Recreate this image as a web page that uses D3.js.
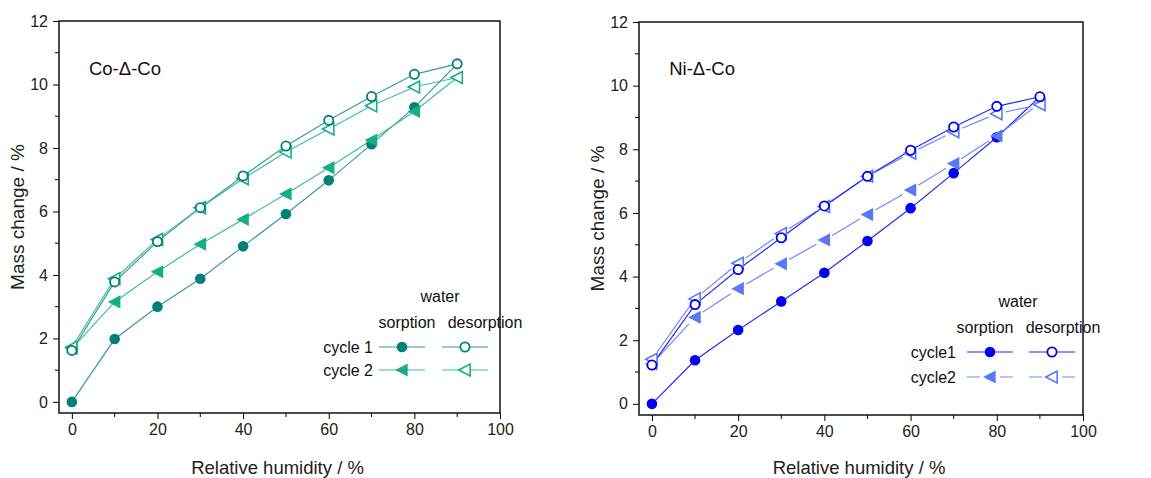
<!DOCTYPE html>
<html>
<head>
<meta charset="utf-8">
<script src="https://cdn.jsdelivr.net/npm/d3@7"></script>
<style>
  body { margin: 0; background: #fff; }
  svg { font-family: "Liberation Sans", Arial, sans-serif; }
</style>
</head>
<body>
<svg id="chart" width="1151" height="478"></svg>
<script>
"use strict";

// relative humidity steps, up and down
const rhUp = [0, 10, 20, 30, 40, 50, 60, 70, 80, 90];
const rhDown = [90, 80, 70, 60, 50, 40, 30, 20, 10, 0];

const xTicks = [0, 20, 40, 60, 80, 100];
const yTicks = [0, 2, 4, 6, 8, 10, 12];

// Co-Δ-Co
const coSorp1 = [0, 1.98, 3.0, 3.88, 4.9, 5.92, 6.98, 8.12, 9.28, 10.65];
const coDesorp1 = [10.65, 10.32, 9.62, 8.87, 8.06, 7.12, 6.12, 5.05, 3.78, 1.62];
const coSorp2 = [1.68, 3.15, 4.1, 4.97, 5.75, 6.55, 7.38, 8.25, 9.15, 10.22];
const coDesorp2 = [10.22, 9.92, 9.33, 8.6, 7.87, 7.03, 6.12, 5.12, 3.88, 1.72];

// Ni-Δ-Co
const niSorp1 = [0, 1.37, 2.32, 3.22, 4.12, 5.12, 6.15, 7.25, 8.38, 9.65];
const niDesorp1 = [9.65, 9.35, 8.7, 7.97, 7.15, 6.22, 5.22, 4.22, 3.12, 1.22];
const niSorp2 = [1.25, 2.72, 3.62, 4.4, 5.15, 5.95, 6.72, 7.55, 8.42, 9.45];
const niDesorp2 = [9.4, 9.12, 8.55, 7.88, 7.15, 6.2, 5.35, 4.42, 3.3, 1.4];

const svg = d3.select("#chart");

// left-pointing triangle for cycle 2
const triLeft = d3.symbol().type({
  draw(ctx, size) {
    const s = Math.sqrt(size);
    ctx.moveTo(-s * 0.6, 0);
    ctx.lineTo(s * 0.5, -s * 0.58);
    ctx.lineTo(s * 0.5, s * 0.58);
    ctx.closePath();
  }
});

function drawMarker(g, x, y, shape, color, filled) {
  if (shape === "circle") {
    g.append("circle")
      .attr("cx", x).attr("cy", y)
      .attr("r", filled ? 5.3 : 4.6)
      .attr("fill", filled ? color : "#fff")
      .attr("stroke", color)
      .attr("stroke-width", filled ? 0 : 1.8);
  } else {
    g.append("path")
      .attr("transform", `translate(${x},${y})`)
      .attr("d", triLeft.size(filled ? 130 : 105)())
      .attr("fill", filled ? color : "#fff")
      .attr("stroke", color)
      .attr("stroke-width", filled ? 0 : 1.6);
  }
}

// draws the line; with gap > 0 the segments stop short of the markers
function drawLine(g, pts, color, gap) {
  if (!gap) {
    g.append("path")
      .attr("d", d3.line()(pts))
      .attr("fill", "none")
      .attr("stroke", color)
      .attr("stroke-width", 1.2);
    return;
  }
  for (let i = 1; i < pts.length; i++) {
    const [x0, y0] = pts[i - 1];
    const [x1, y1] = pts[i];
    const len = Math.hypot(x1 - x0, y1 - y0);
    if (len <= 2 * gap) continue;
    const ux = (x1 - x0) / len, uy = (y1 - y0) / len;
    g.append("line")
      .attr("x1", x0 + ux * gap).attr("y1", y0 + uy * gap)
      .attr("x2", x1 - ux * gap).attr("y2", y1 - uy * gap)
      .attr("stroke", color)
      .attr("stroke-width", 1.2);
  }
}

function drawPanel(p) {
  const x = d3.scaleLinear().domain([-3, 100]).range([p.left, p.right]);
  const y = d3.scaleLinear().domain([-0.35, 12]).range([p.bottom, p.top]);
  const g = svg.append("g");

  // axes: ticks point outward
  const xAxis = d3.axisBottom(x).tickValues(xTicks).tickSize(6).tickPadding(5);
  const yAxis = d3.axisLeft(y).tickValues(yTicks).tickSize(6).tickPadding(5);

  const gx = g.append("g").attr("transform", `translate(0,${p.bottom})`).call(xAxis);
  const gy = g.append("g").attr("transform", `translate(${p.left},0)`).call(yAxis);

  // minor ticks
  gx.selectAll(".minor").data([10, 30, 50, 70, 90]).enter().append("line")
    .attr("x1", (d) => x(d)).attr("x2", (d) => x(d))
    .attr("y1", 0).attr("y2", 4).attr("stroke", "#000");
  gy.selectAll(".minor").data([1, 3, 5, 7, 9, 11]).enter().append("line")
    .attr("y1", (d) => y(d)).attr("y2", (d) => y(d))
    .attr("x1", 0).attr("x2", -4).attr("stroke", "#000");

  [gx, gy].forEach((a) => {
    a.select(".domain").remove();
    a.selectAll("text").attr("font-size", 16).attr("fill", "#222")
      .attr("font-family", "Liberation Sans, Arial, sans-serif");
  });

  // frame
  g.append("rect")
    .attr("x", p.left).attr("y", p.top)
    .attr("width", p.right - p.left).attr("height", p.bottom - p.top)
    .attr("fill", "none").attr("stroke", "#111").attr("stroke-width", 1.5);

  // axis titles
  g.append("text")
    .attr("x", (p.left + p.right) / 2 - 2).attr("y", 474)
    .attr("text-anchor", "middle").attr("font-size", 18.5).attr("fill", "#222")
    .text("Relative humidity / %");
  g.append("text")
    .attr("transform", `translate(${p.yTitleX},${(p.top + p.bottom) / 2}) rotate(-90)`)
    .attr("text-anchor", "middle").attr("font-size", 19).attr("fill", "#222")
    .text("Mass change / %");

  // panel label
  g.append("text")
    .attr("x", x(p.labelX)).attr("y", 75)
    .attr("font-size", 18.5).attr("fill", "#111")
    .text(p.label);

  // series: lines first, then markers (desorption on top)
  p.series.forEach((s) => {
    const pts = s.xs.map((d, i) => [x(d), y(s.ys[i])]);
    drawLine(g, pts, s.lineColor, s.gap);
  });
  p.series.forEach((s) => {
    s.xs.forEach((d, i) => {
      if (s.skip && s.skip.includes(i)) return;
      drawMarker(g, x(d), y(s.ys[i]), s.shape, s.color, s.filled);
    });
  });

  // legend
  const lg = g.append("g").attr("font-size", 16).attr("fill", "#111");
  const L = p.legend;
  lg.append("text").attr("x", L.waterX).attr("y", L.waterY)
    .attr("text-anchor", "middle").text("water");
  lg.append("text").attr("x", L.sorpHeadX).attr("y", L.headY)
    .attr("text-anchor", "middle").text("sorption");
  lg.append("text").attr("x", L.desorpHeadX).attr("y", L.headY)
    .attr("text-anchor", "middle").text("desorption");

  L.rows.forEach((r, k) => {
    const ry = L.rowY[k];
    lg.append("text").attr("x", L.nameX).attr("y", ry + 6)
      .attr("text-anchor", "end").text(r.name);
    [[L.sorpX, r.sorp], [L.desorpX, r.desorp]].forEach(([cx, s]) => {
      drawLine(lg, [[cx - 23, ry], [cx + 23, ry]], s.lineColor, 0);
      if (s.gap) {
        // white gap around the symbol like in the plot
        lg.append("rect").attr("x", cx - 10).attr("y", ry - 2)
          .attr("width", 20).attr("height", 4).attr("fill", "#fff");
      }
      drawMarker(lg, cx, ry, s.shape, s.color, s.filled);
    });
  });
}

// colours
const coC1 = "#00807a", coC1Line = "#3a9c98";
const coC2 = "#17ad86", coC2Line = "#3cc09c";
const niC1 = "#0000f5", niC1Line = "#2a2af0";
const niC2 = "#5a78f5", niC2Line = "#6f8af5";

const coSeries = [
  { xs: rhUp, ys: coSorp1, shape: "circle", filled: true, color: coC1, lineColor: coC1Line, skip: [9] },
  { xs: rhUp, ys: coSorp2, shape: "tri", filled: true, color: coC2, lineColor: coC2Line, skip: [9] },
  { xs: rhDown, ys: coDesorp2, shape: "tri", filled: false, color: coC2, lineColor: coC2Line },
  { xs: rhDown, ys: coDesorp1, shape: "circle", filled: false, color: coC1, lineColor: coC1Line }
];

const niSeries = [
  { xs: rhUp, ys: niSorp1, shape: "circle", filled: true, color: niC1, lineColor: niC1Line, skip: [9] },
  { xs: rhUp, ys: niSorp2, shape: "tri", filled: true, color: niC2, lineColor: niC2Line, gap: 9, skip: [9] },
  { xs: rhDown, ys: niDesorp2, shape: "tri", filled: false, color: niC2, lineColor: niC2Line, gap: 9 },
  { xs: rhDown, ys: niDesorp1, shape: "circle", filled: false, color: niC1, lineColor: niC1Line }
];

drawPanel({
  left: 59, right: 500, top: 21, bottom: 413, yTitleX: 24,
  label: "Co-\u0394-Co", labelX: 4,
  series: coSeries,
  legend: {
    waterX: 440, waterY: 302, sorpHeadX: 407, desorpHeadX: 485, headY: 328,
    sorpX: 402, desorpX: 465,
    nameX: 373, rowY: [347, 370],
    rows: [
      { name: "cycle 1", sorp: coSeries[0], desorp: coSeries[3] },
      { name: "cycle 2", sorp: coSeries[1], desorp: coSeries[2] }
    ]
  }
});

drawPanel({
  left: 639, right: 1083, top: 22, bottom: 415, yTitleX: 604,
  label: "Ni-\u0394-Co", labelX: 4,
  series: niSeries,
  legend: {
    waterX: 1018, waterY: 307, sorpHeadX: 985, desorpHeadX: 1063, headY: 333,
    sorpX: 990, desorpX: 1052,
    nameX: 956, rowY: [352, 377],
    rows: [
      { name: "cycle1", sorp: niSeries[0], desorp: niSeries[3] },
      { name: "cycle2", sorp: niSeries[1], desorp: niSeries[2] }
    ]
  }
});
</script>
</body>
</html>
